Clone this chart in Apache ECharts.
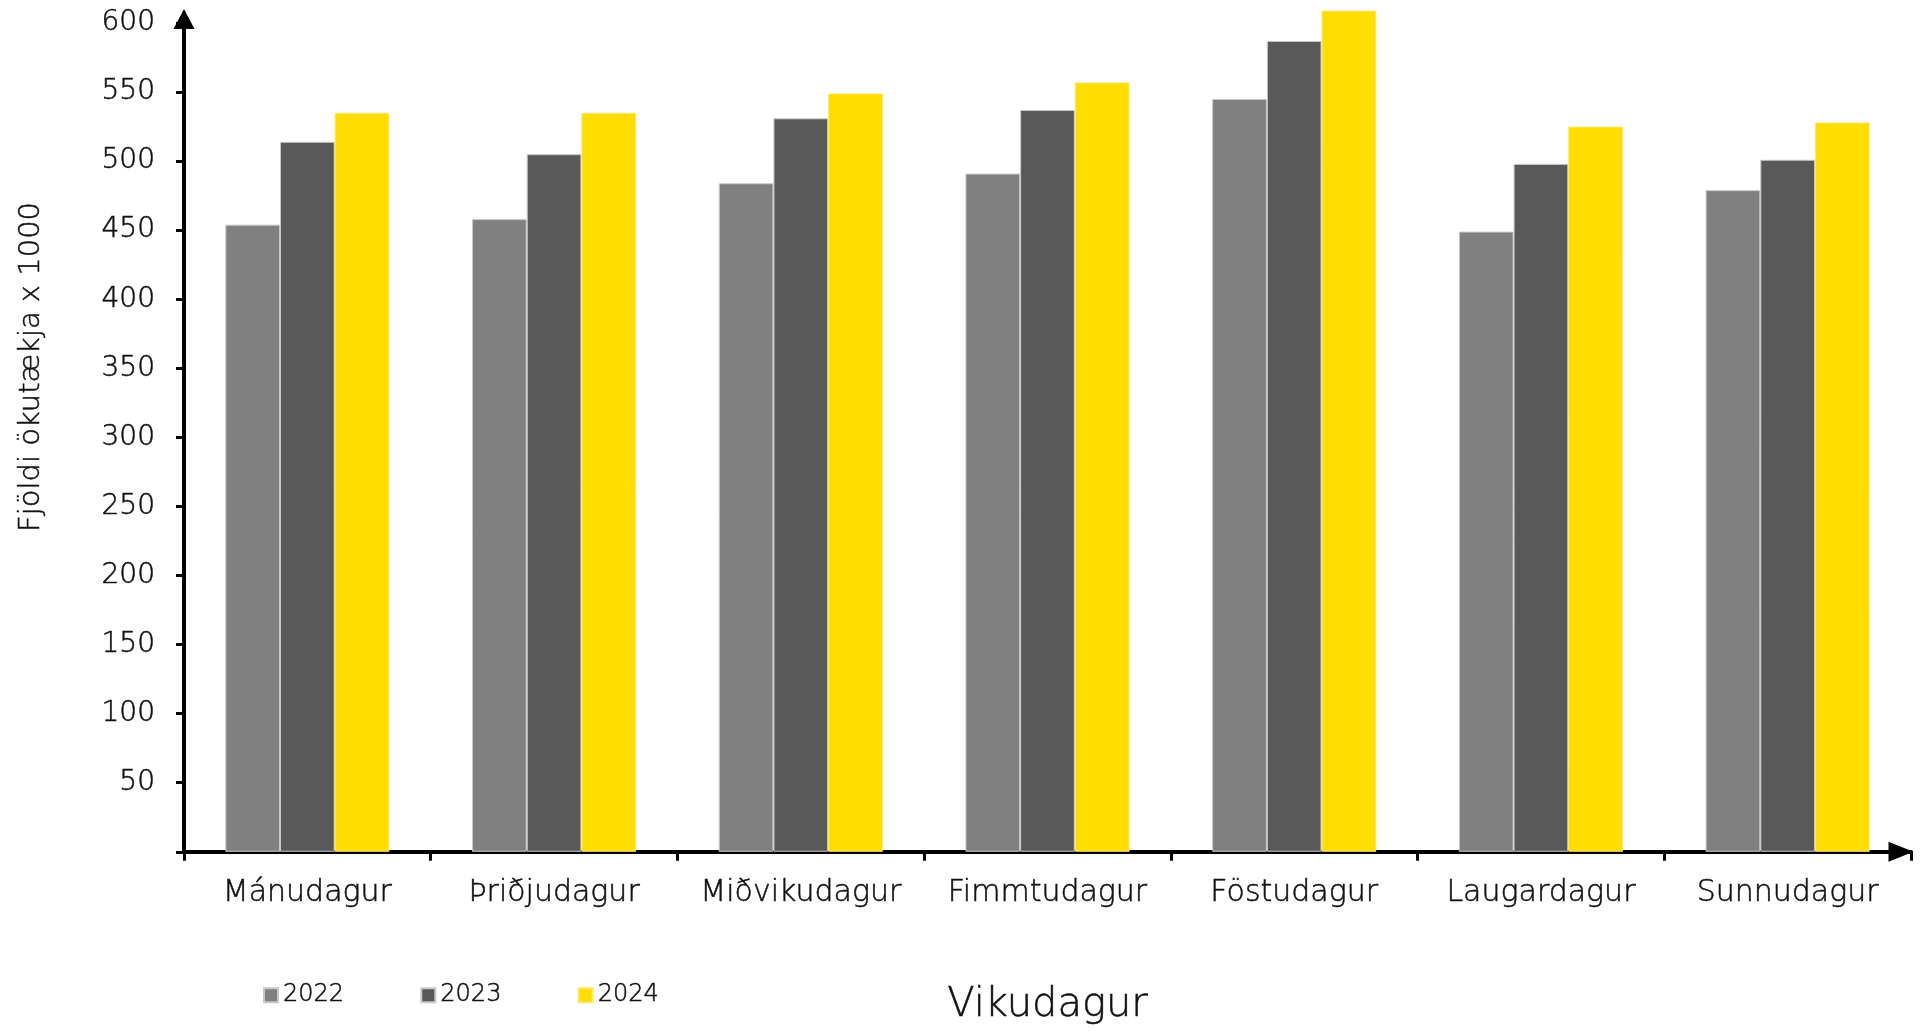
<!DOCTYPE html>
<html>
<head>
<meta charset="utf-8">
<style>
  html, body { margin: 0; padding: 0; background: #fff; }
  #chart { width: 1920px; height: 1031px; }
</style>
<script src="https://cdn.jsdelivr.net/npm/echarts@6/dist/echarts.min.js"></script>
</head>
<body>
<div id="chart"></div>
<script>
const categories = ['Mánudagur', 'Þriðjudagur', 'Miðvikudagur', 'Fimmtudagur', 'Föstudagur', 'Laugardagur', 'Sunnudagur'];
const seriesNames = ['2022', '2023', '2024'];
const values2022 = [454, 458, 484, 491, 545, 449, 479];
const values2023 = [514, 505, 531, 537, 587, 498, 501];
const values2024 = [535, 535, 549, 557, 609, 525, 528];
const colors = ['#808080', '#595959', '#FFDD00'];
const yMin = 0, yMax = 600, yInterval = 50;
const xTitle = 'Vikudagur';
const yTitle = 'Fjöldi ökutækja x 1000';

const FONT = '"DejaVu Sans", "Open Sans", sans-serif';
const W = 200;
const TXT = '#111111';
const BORDER = { textBorderColor: '#111111', textBorderWidth: 0.5 };
const chart = echarts.init(document.getElementById('chart'));
const allValues = [values2022, values2023, values2024];

chart.setOption({
  animation: false,
  backgroundColor: '#ffffff',
  textStyle: { fontFamily: FONT, color: TXT },
  grid: { left: 184, right: 9, top: 23, bottom: 175, containLabel: false },
  legend: {
    data: seriesNames,
    left: 263,
    top: 983,
    padding: 0,
    icon: 'rect',
    itemWidth: 14,
    itemHeight: 14,
    itemGap: 76,
    textStyle: Object.assign({ fontFamily: FONT, fontSize: 24, color: TXT, fontWeight: W }, BORDER)
  },
  xAxis: {
    type: 'category',
    data: categories,
    name: xTitle,
    nameLocation: 'middle',
    nameGap: 134,
    nameTextStyle: Object.assign({ fontFamily: FONT, fontSize: 40, color: TXT, fontWeight: W }, BORDER),
    axisLine: {
      show: true,
      lineStyle: { color: '#000', width: 4 },
      symbol: ['none', 'triangle'],
      symbolSize: [20, 25],
      symbolOffset: [0, -10]
    },
    axisTick: { show: true, interval: 0, alignWithLabel: false, length: 9, lineStyle: { color: '#000', width: 3 } },
    axisLabel: Object.assign({ interval: 0, fontFamily: FONT, fontSize: 30, color: TXT, margin: 26, fontWeight: W }, BORDER),
    splitLine: { show: false }
  },
  yAxis: {
    type: 'value',
    min: yMin,
    max: yMax,
    interval: yInterval,
    axisLine: {
      show: true,
      lineStyle: { color: '#000', width: 4 },
      symbol: ['none', 'triangle'],
      symbolSize: [21, 20],
      symbolOffset: [0, 4]
    },
    axisTick: { show: true, length: 8, lineStyle: { color: '#000', width: 3 } },
    axisLabel: Object.assign({
      fontFamily: FONT, fontSize: 28, color: TXT, margin: 29, fontWeight: W,
      formatter: v => (v === 0 ? '' : String(v))
    }, BORDER),
    splitLine: { show: false }
  },
  graphic: [{
    type: 'text',
    x: 31,
    y: 367,
    rotation: Math.PI / 2,
    style: {
      text: yTitle,
      fontFamily: FONT,
      fontSize: 29,
      fontWeight: W,
      fill: TXT,
      stroke: '#111111',
      lineWidth: 0.5,
      align: 'center',
      verticalAlign: 'middle'
    }
  }],
  series: seriesNames.map((name, i) => ({
    name: name,
    type: 'bar',
    data: allValues[i],
    barGap: '0%',
    barCategoryGap: '33.5%',
    clip: false,
    itemStyle: { color: colors[i], borderColor: i === 2 ? '#ffe866' : '#c8c8c8', borderWidth: 1 }
  }))
});
</script>
</body>
</html>
